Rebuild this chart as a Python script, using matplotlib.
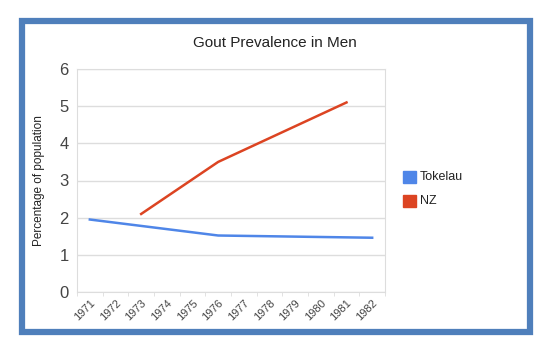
import matplotlib.pyplot as plt
from matplotlib.patches import Rectangle
import numpy as np

plt.rcParams['font.family'] = ['Liberation Sans', 'DejaVu Sans']

years = ['1971', '1972', '1973', '1974', '1975', '1976',
         '1977', '1978', '1979', '1980', '1981', '1982']
tokelau_years = ['1971', '1976', '1982']
tokelau = [1.95, 1.52, 1.46]
nz_years = ['1973', '1976', '1981']
nz = [2.1, 3.5, 5.1]

blue = '#4f86e8'
red = '#dc4422'
W, H = 553, 350

fig = plt.figure(figsize=(W / 100, H / 100), dpi=100)
fig.patch.set_facecolor('white')

# blue frame round the chart
fig.add_artist(Rectangle((22 / W, 1 - 332 / H), 508 / W, 311 / H,
                         transform=fig.transFigure, fill=False,
                         edgecolor='#4f7fbb', linewidth=4.5))

ax = fig.add_axes([77 / W, 1 - 292 / H, 308 / W, 223 / H])
idx = {y: i for i, y in enumerate(years)}
ax.plot([idx[y] for y in tokelau_years], tokelau, color=blue, lw=1.8)
ax.plot([idx[y] for y in nz_years], nz, color=red, lw=1.8)

ax.set_xlim(-0.5, len(years) - 0.5)
ax.set_ylim(0, 6)
ax.set_yticks(range(7))
ax.yaxis.grid(True, color='#dddddd', lw=1)
ax.set_axisbelow(True)
for s in ax.spines.values():
    s.set_color('#dddddd')
ax.tick_params(axis='y', length=0, labelsize=12, labelcolor='#444444', pad=6)
ax.set_xticks(range(len(years)))
ax.set_xticklabels(years, rotation=45, ha='right', rotation_mode='anchor',
                   fontsize=8, color='#444444')
ax.tick_params(axis='x', length=0, pad=4)
ax.set_xticks(np.arange(-0.5, len(years), 1), minor=True)
ax.tick_params(axis='x', which='minor', length=3, color='#dddddd')
ax.set_ylabel('Percentage of population', fontsize=8.5, color='#222222', labelpad=10)

fig.text(275 / W, 1 - 43 / H, 'Gout Prevalence in Men', ha='center', va='center',
         fontsize=11, color='#222222')

# legend
for i, (name, c) in enumerate([('Tokelau', blue), ('NZ', red)]):
    yc = 177 + i * 24
    fig.add_artist(Rectangle((403 / W, 1 - (yc + 6) / H), 13 / W, 12 / H,
                             transform=fig.transFigure, color=c))
    fig.text(420 / W, 1 - yc / H, name, ha='left', va='center',
             fontsize=9, color='#222222')

fig.savefig('out.png', dpi=100)
